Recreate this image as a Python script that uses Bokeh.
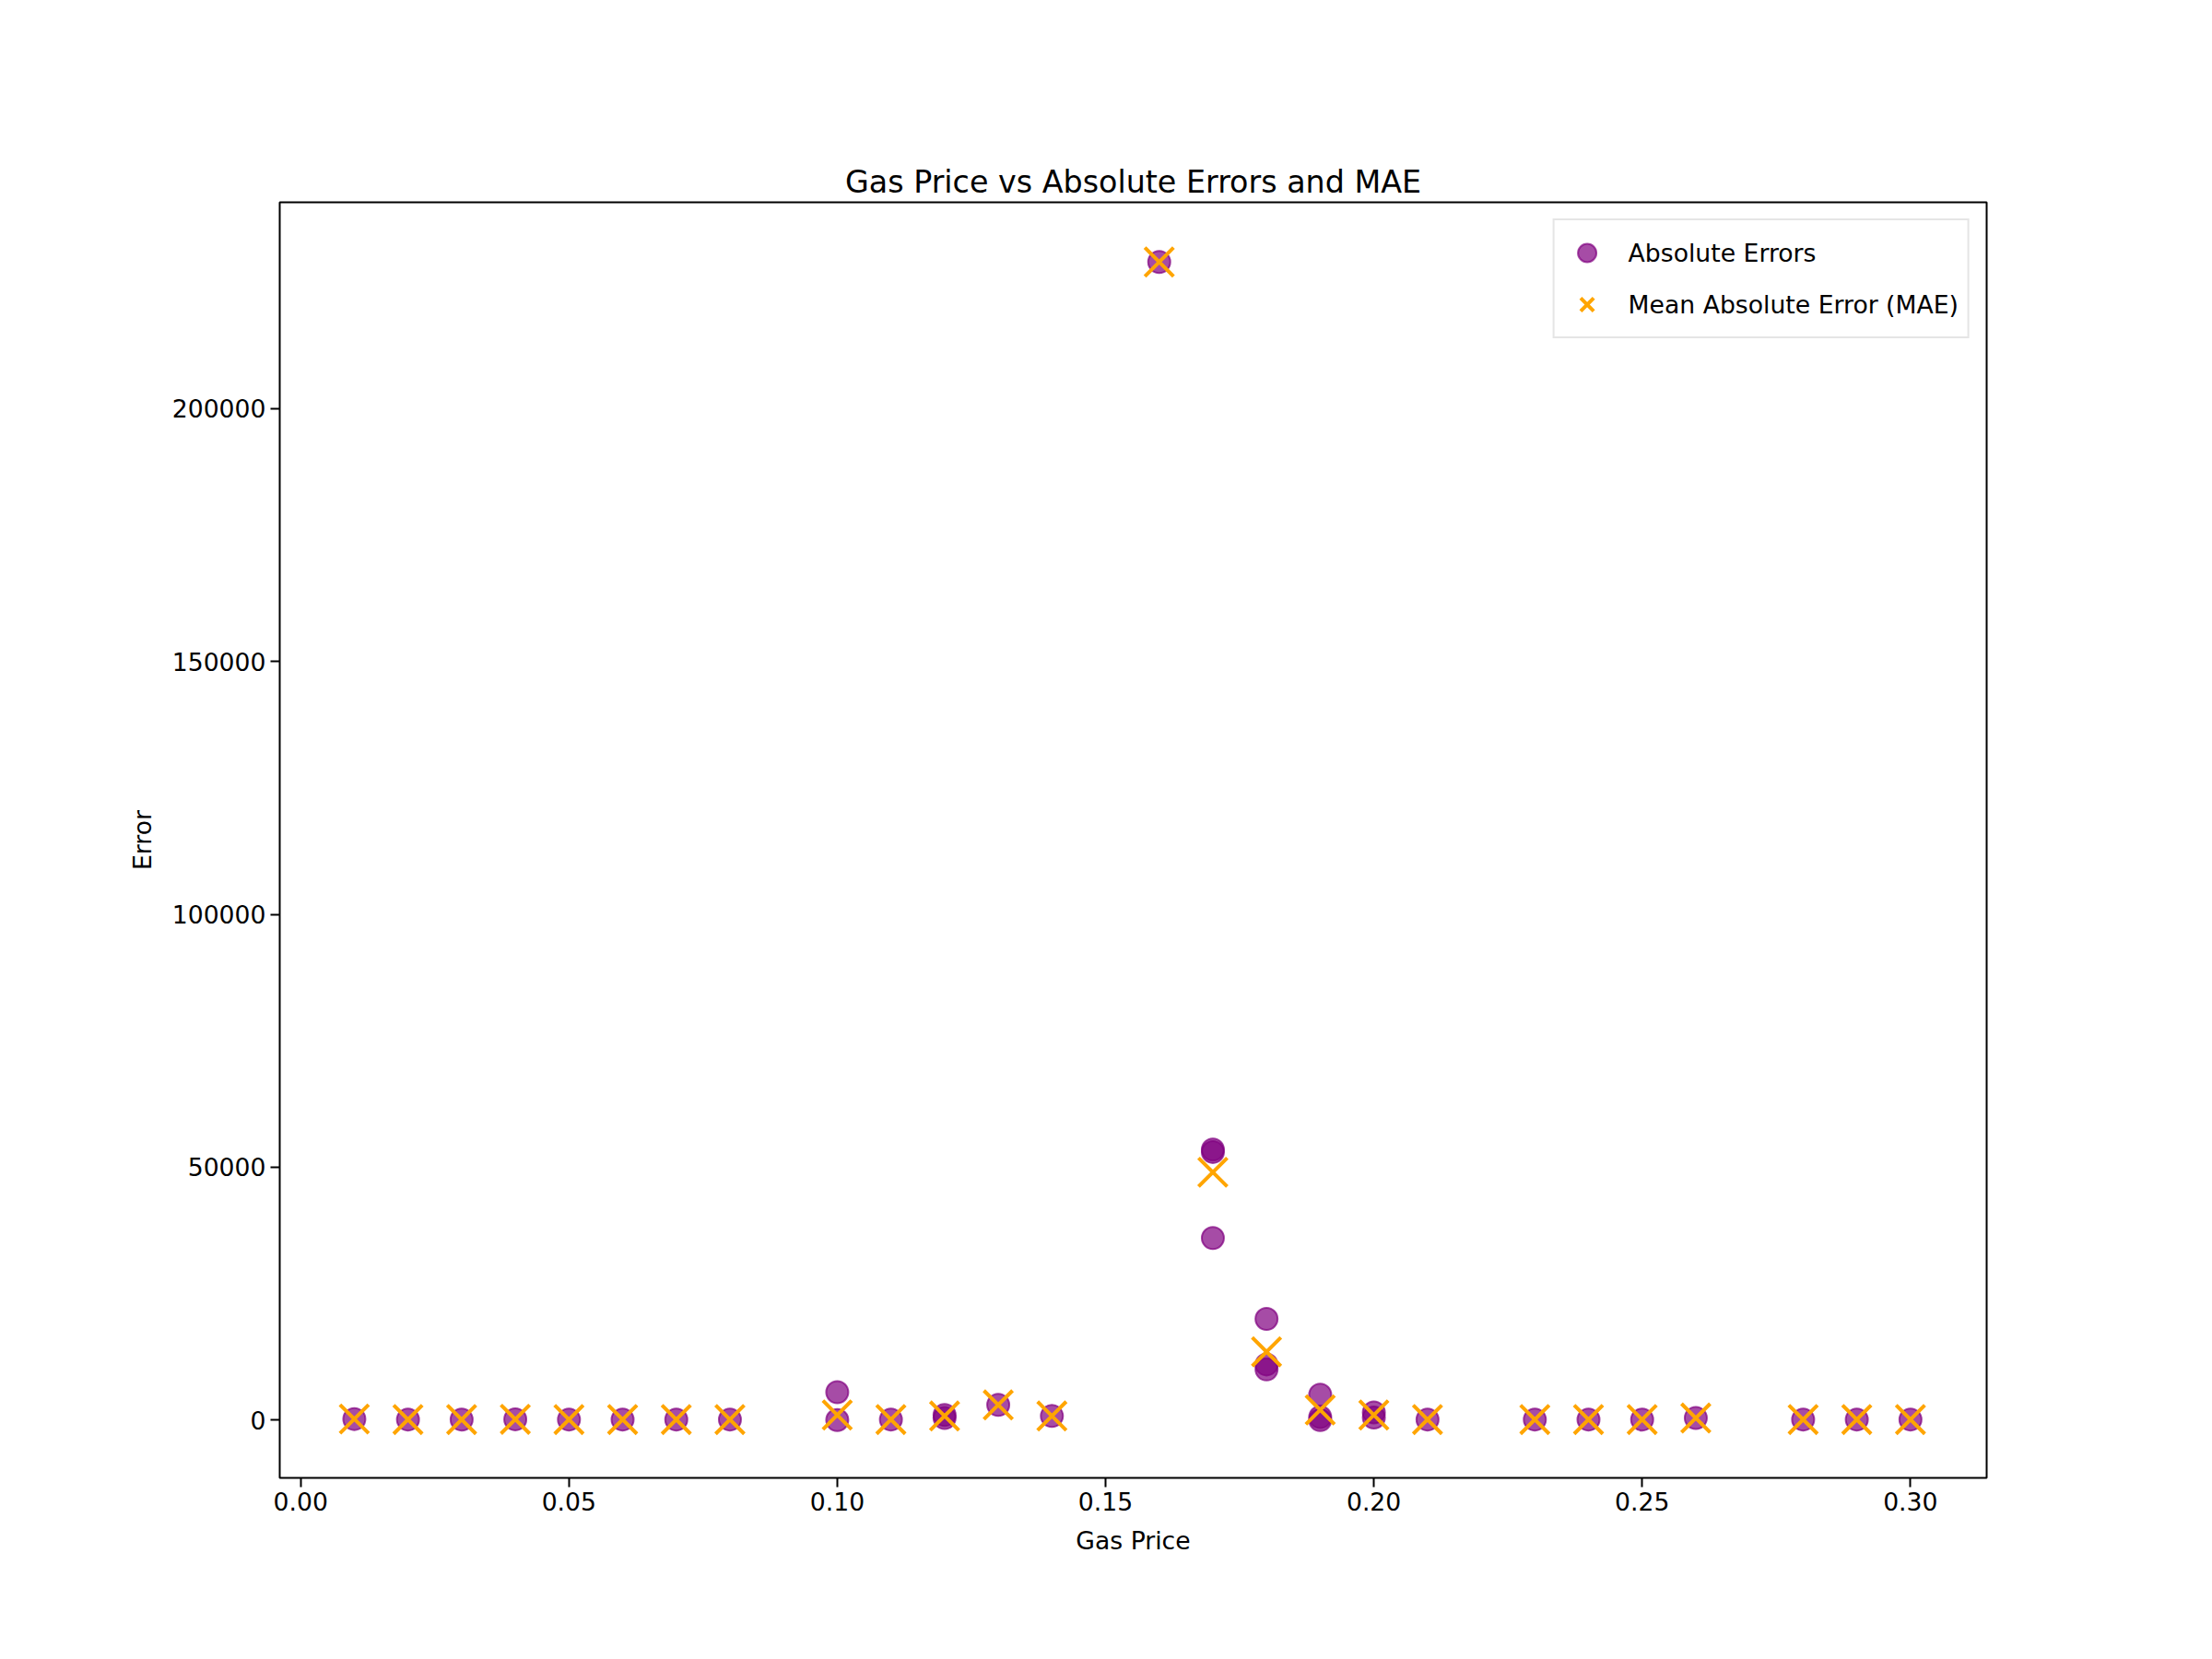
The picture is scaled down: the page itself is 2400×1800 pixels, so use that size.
from bokeh.plotting import figure
from bokeh.models import Range1d, FixedTicker, Legend, LegendItem, NumeralTickFormatter
from bokeh.embed import file_html
from bokeh.resources import INLINE

# absolute errors (one point per sample)
err_x = [0.01, 0.02, 0.03, 0.04, 0.05, 0.06, 0.07, 0.08,
         0.10, 0.10, 0.11, 0.12, 0.12, 0.13, 0.14,
         0.16, 0.17, 0.17, 0.17, 0.18, 0.18, 0.18,
         0.19, 0.19, 0.19, 0.20, 0.20, 0.21,
         0.23, 0.24, 0.25, 0.26, 0.28, 0.29, 0.30]
err_y = [200, 100, 100, 150, 100, 100, 100, 100,
         5500, 0, 100, 1000, 400, 3000, 800,
         229000, 53500, 53000, 36000, 20000, 11000, 10000,
         5000, 600, 0, 1500, 500, 100,
         100, 100, 100, 400, 100, 100, 100]

# mean absolute error per gas price
mae_x = [0.01, 0.02, 0.03, 0.04, 0.05, 0.06, 0.07, 0.08, 0.10, 0.11, 0.12,
         0.13, 0.14, 0.16, 0.17, 0.18, 0.19, 0.20, 0.21, 0.23, 0.24, 0.25,
         0.26, 0.28, 0.29, 0.30]
mae_y = [200, 100, 100, 150, 100, 100, 100, 100, 1000, 100, 800,
         3000, 800, 229000, 49000, 13500, 2000, 1000, 100, 100, 100, 100,
         400, 100, 100, 100]

FONT = "DejaVu Sans"

p = figure(width=2384, height=1784, output_backend="svg", toolbar_location=None,
           tools="", x_range=Range1d(-0.0039, 0.3142),
           y_range=Range1d(-11440, 240800),
           min_border_left=303, min_border_right=229,
           min_border_top=219, min_border_bottom=181)

p.title.text = "Gas Price vs Absolute Errors and MAE"
p.title.align = "center"
p.title.text_font = FONT
p.title.text_font_size = "25pt"
p.title.text_font_style = "normal"
p.title.text_color = "black"
p.title.offset = 0
p.title.standoff = 6

p.xgrid.visible = False
p.ygrid.visible = False
p.outline_line_color = "black"
p.outline_line_width = 2

p.xaxis.ticker = FixedTicker(ticks=[0.0, 0.05, 0.1, 0.15, 0.2, 0.25, 0.3])
p.xaxis.major_label_overrides = {0.0: "0.00", 0.05: "0.05", 0.1: "0.10", 0.15: "0.15",
                                 0.2: "0.20", 0.25: "0.25", 0.3: "0.30"}
p.yaxis.ticker = FixedTicker(ticks=[0, 50000, 100000, 150000, 200000])
p.yaxis.formatter = NumeralTickFormatter(format="0")
for ax in (p.xaxis, p.yaxis):
    ax.major_label_text_font = FONT
    ax.major_label_text_font_size = "20pt"
    ax.major_label_text_color = "black"
    ax.axis_label_text_font = FONT
    ax.axis_label_text_font_size = "20pt"
    ax.axis_label_text_font_style = "normal"
    ax.axis_label_text_color = "black"
    ax.minor_tick_line_color = None
    ax.major_tick_out = 10
    ax.major_tick_in = 0
    ax.major_tick_line_width = 2
    ax.axis_line_color = None
    ax.axis_label_standoff = 14
p.xaxis.axis_label = "Gas Price"
p.yaxis.axis_label = "Error"

c = p.scatter(err_x, err_y, size=24, color="purple", alpha=0.7, line_width=2)
x = p.scatter(mae_x, mae_y, marker="x", size=44, line_color="orange",
              line_width=4, alpha=1.0)

legend = Legend(items=[LegendItem(label="Absolute Errors", renderers=[c]),
                       LegendItem(label="Mean Absolute Error (MAE)", renderers=[x])],
                location="top_right", label_text_font=FONT,
                label_text_font_size="20pt", label_text_color="black",
                border_line_color="#cccccc",
                border_line_width=2, glyph_width=50, glyph_height=50,
                margin=18, padding=10, spacing=6, label_standoff=20)
p.add_layout(legend)

open("out.html", "w").write(file_html(p, INLINE))
